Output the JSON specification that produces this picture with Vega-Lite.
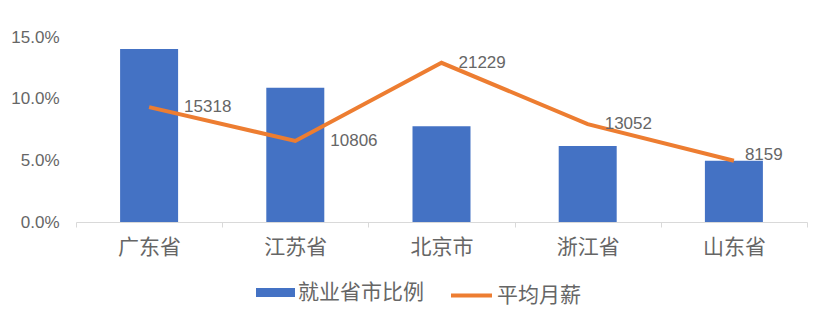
{
  "$schema": "https://vega.github.io/schema/vega-lite/v6.json",
  "width": 731,
  "height": 185,
  "autosize": "none",
  "padding": {"left": 76, "top": 37, "right": 24, "bottom": 100},
  "background": "white",
  "config": {
    "view": {"stroke": null},
    "font": "Liberation Sans, Noto Sans CJK SC",
    "axis": {"labelFont": "Liberation Sans, Noto Sans CJK SC", "labelColor": "#666666"},
    "legend": {"labelFont": "Liberation Sans, Noto Sans CJK SC", "labelColor": "#666666"}
  },
  "data": {
    "values": [
      {"省市": "广东省", "比例": 0.1403, "月薪": 15318},
      {"省市": "江苏省", "比例": 0.1089, "月薪": 10806},
      {"省市": "北京市", "比例": 0.0776, "月薪": 21229},
      {"省市": "浙江省", "比例": 0.0616, "月薪": 13052},
      {"省市": "山东省", "比例": 0.0497, "月薪": 8159}
    ]
  },
  "encoding": {
    "x": {
      "field": "省市",
      "type": "nominal",
      "sort": null,
      "scale": {"paddingInner": 0, "paddingOuter": 0},
      "axis": {
        "title": null,
        "labelAngle": 0,
        "labelFontSize": 21,
        "labelPadding": 9,
        "domainColor": "#D9D9D9",
        "tickColor": "#D9D9D9",
        "tickSize": 5,
        "tickBand": "extent",
        "grid": false
      }
    }
  },
  "layer": [
    {
      "mark": {"type": "bar", "size": 58},
      "encoding": {
        "y": {
          "field": "比例",
          "type": "quantitative",
          "scale": {"domain": [0, 0.15]},
          "axis": {
            "title": null,
            "values": [0, 0.05, 0.1, 0.15],
            "format": ".1%",
            "domain": false,
            "ticks": false,
            "grid": false,
            "labelFontSize": 17,
            "labelPadding": 17
          }
        },
        "color": {
          "datum": "就业省市比例",
          "scale": {"range": ["#4472C4"]},
          "legend": {
            "title": null,
            "orient": "none",
            "legendX": 180,
            "legendY": 236,
            "symbolType": "M-1,-0.23H1V0.23H-1Z",
            "symbolSize": 1521,
            "symbolStrokeWidth": 0,
            "labelFontSize": 21,
            "labelOffset": 3
          }
        }
      }
    },
    {
      "layer": [
        {
          "mark": {"type": "line", "strokeWidth": 4, "color": "#ED7D31"},
          "encoding": {
            "y": {"field": "月薪", "type": "quantitative", "scale": {"domain": [0, 24667]}, "axis": null},
            "stroke": {
              "datum": "平均月薪",
              "scale": {"range": ["#ED7D31"]},
              "legend": {
                "title": null,
                "orient": "none",
                "legendX": 373,
                "legendY": 236,
                "symbolType": "stroke",
                "symbolSize": 1681,
                "symbolStrokeWidth": 4,
                "labelFontSize": 21,
                "labelOffset": 3
              }
            }
          }
        },
        {
          "transform": [{"filter": "datum['省市'] === '广东省' || datum['省市'] === '江苏省'"}],
          "mark": {"type": "text", "align": "left", "baseline": "middle", "dx": 35, "fontSize": 17, "color": "#666666"},
          "encoding": {
            "y": {"field": "月薪", "type": "quantitative", "scale": {"domain": [0, 24667]}, "axis": null},
            "text": {"field": "月薪", "type": "quantitative", "format": "d"}
          }
        },
        {
          "transform": [{"filter": "datum['省市'] === '北京市' || datum['省市'] === '浙江省'"}],
          "mark": {"type": "text", "align": "left", "baseline": "middle", "dx": 17, "fontSize": 17, "color": "#666666"},
          "encoding": {
            "y": {"field": "月薪", "type": "quantitative", "scale": {"domain": [0, 24667]}, "axis": null},
            "text": {"field": "月薪", "type": "quantitative", "format": "d"}
          }
        },
        {
          "transform": [{"filter": "datum['省市'] === '山东省'"}],
          "mark": {"type": "text", "align": "left", "baseline": "middle", "dx": 11, "dy": -6, "fontSize": 17, "color": "#666666"},
          "encoding": {
            "y": {"field": "月薪", "type": "quantitative", "scale": {"domain": [0, 24667]}, "axis": null},
            "text": {"field": "月薪", "type": "quantitative", "format": "d"}
          }
        }
      ]
    }
  ],
  "resolve": {"scale": {"y": "independent"}}
}
